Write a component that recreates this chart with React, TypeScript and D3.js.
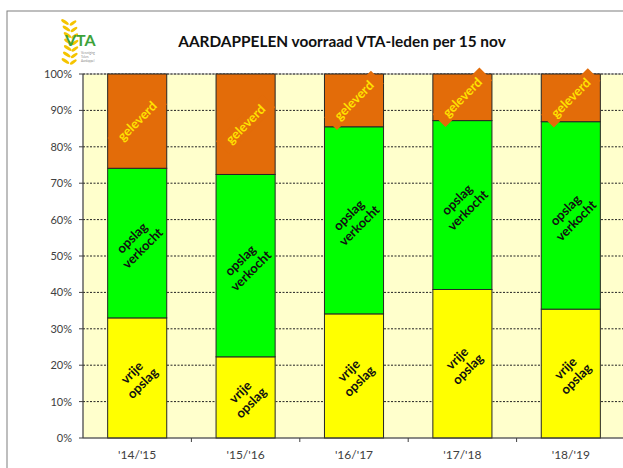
import * as d3 from "d3";

const seasons = ["'14/'15", "'15/'16", "'16/'17", "'17/'18", "'18/'19"];
const vrijeOpslag = [33.0, 22.3, 34.1, 40.8, 35.4];
const opslagVerkocht = [41.1, 50.1, 51.4, 46.4, 51.5];
const geleverd = [25.9, 27.6, 14.5, 12.8, 13.1];
const yTicks = [0, 10, 20, 30, 40, 50, 60, 70, 80, 90, 100];

const seriesInfo = [
  { key: "vrije", values: vrijeOpslag, fill: "#FFFF00", lines: ["vrije", "opslag"], text: "#111" },
  { key: "verkocht", values: opslagVerkocht, fill: "#00FF00", lines: ["opslag", "verkocht"], text: "#111" },
  { key: "geleverd", values: geleverd, fill: "#E36C09", lines: ["geleverd"], text: "#FFE100" },
];

const W = 623;
const H = 468;
const font = "Lato, 'Open Sans', sans-serif";

export default function App() {
  const left = 83;
  const top = 74;
  const bottom = 438;
  const step = 108.4;

  const x = d3
    .scaleBand<string>()
    .domain(seasons)
    .range([left, left + step * seasons.length])
    .paddingInner(0.455)
    .paddingOuter(0.2275);
  const y = d3.scaleLinear().domain([0, 100]).range([bottom, top]);
  const bw = x.bandwidth();

  // stack segments per season
  const stacked = seasons.map((s, i) => {
    let acc = 0;
    return seriesInfo.map((sr) => {
      const y0 = acc;
      const total = vrijeOpslag[i] + opslagVerkocht[i] + geleverd[i];
      acc += (sr.values[i] / total) * 100;
      return { season: s, sr, y0, y1: acc };
    });
  });

  const boundaries = seasons.slice(1).map((s) => (x(s) as number) - (x.step() - bw) / 2);

  return (
    <svg width={W} height={H} style={{ position: "absolute", left: 0, top: 0, background: "#fff" }}>
      {/* outer frame */}
      <rect x={7} y={11} width={W + 20} height={H + 20} fill="#fff" stroke="#7f7f7f" strokeWidth={1} />

      {/* logo */}
      <g>
        {d3.range(7).map((k) => (
          <g key={k}>
            <ellipse cx={65 + Math.sin(k / 2) * 3} cy={22 + k * 6.5} rx={4.5} ry={1.6} fill="#F5C400" transform={`rotate(35 ${65 + Math.sin(k / 2) * 3} ${22 + k * 6.5})`} />
            <ellipse cx={73 + Math.sin(k / 2) * 2} cy={23 + k * 6.5} rx={4} ry={1.4} fill="#F5C400" transform={`rotate(-35 ${73 + Math.sin(k / 2) * 2} ${23 + k * 6.5})`} />
          </g>
        ))}
        <text x={65} y={46} fontFamily={font} fontWeight={700} fontSize={16} fill="#3DA23A">
          VTA
        </text>
        <text x={81} y={54} fontFamily={font} fontSize={3} fill="#888">Vereniging</text>
        <text x={81} y={58} fontFamily={font} fontSize={3} fill="#888">Telers</text>
        <text x={81} y={62} fontFamily={font} fontSize={3} fill="#888">Aardappel</text>
      </g>

      {/* title */}
      <text x={342} y={47} textAnchor="middle" fontFamily={font} fontWeight={700} fontSize={15.4} fill="#111">
        AARDAPPELEN voorraad VTA-leden per 15 nov
      </text>

      {/* plot background */}
      <rect x={left} y={top} width={W} height={bottom - top} fill="#FFFFCC" stroke="#a6a6a6" strokeWidth={1} />

      {/* gridlines */}
      {yTicks.slice(1).map((t) => (
        <line key={t} x1={left} x2={W} y1={y(t)} y2={y(t)} stroke="#222" strokeWidth={1} strokeDasharray="2,1.5" />
      ))}

      {/* bars */}
      {stacked.map((segs) =>
        segs.map((d) => (
          <rect
            key={d.season + d.sr.key}
            x={x(d.season)}
            y={y(d.y1)}
            width={bw}
            height={y(d.y0) - y(d.y1)}
            fill={d.sr.fill}
            stroke="#262626"
            strokeWidth={1}
          />
        ))
      )}

      {/* segment labels */}
      {stacked.map((segs) =>
        segs.map((d) => {
          const cx = (x(d.season) as number) + bw / 2;
          const cy = (y(d.y0) + y(d.y1)) / 2;
          const n = d.sr.lines.length;
          return (
            <g key={"l" + d.season + d.sr.key} transform={`translate(${cx},${cy}) rotate(-45)`}>
              {d.sr.key === "geleverd" && (
                <rect x={-33} y={-9} width={66} height={18} fill="#E36C09" />
              )}
              <text
                textAnchor="middle"
                fontFamily={font}
                fontWeight={700}
                fontSize={13}
                fill={d.sr.text}
              >
                {d.sr.lines.map((ln, j) => (
                  <tspan key={j} x={0} y={(j - (n - 1) / 2) * 15 + 4.5}>
                    {ln}
                  </tspan>
                ))}
              </text>
            </g>
          );
        })
      )}

      {/* y axis */}
      <line x1={left} x2={left} y1={top} y2={bottom} stroke="#404040" strokeWidth={1} />
      {yTicks.map((t) => (
        <g key={"y" + t}>
          <line x1={left - 4} x2={left} y1={y(t)} y2={y(t)} stroke="#404040" />
          <text x={72} y={y(t) + 4} textAnchor="end" fontFamily={font} fontSize={11} fill="#404040">
            {t}%
          </text>
        </g>
      ))}

      {/* x axis */}
      <line x1={left} x2={W} y1={bottom} y2={bottom} stroke="#404040" strokeWidth={1} />
      {boundaries.map((b, i) => (
        <line key={"xt" + i} x1={b} x2={b} y1={bottom} y2={bottom + 4} stroke="#404040" />
      ))}
      {seasons.map((s) => (
        <text
          key={"xl" + s}
          x={(x(s) as number) + bw / 2}
          y={459}
          textAnchor="middle"
          fontFamily={font}
          fontSize={12}
          fill="#404040"
        >
          {s}
        </text>
      ))}
    </svg>
  );
}
